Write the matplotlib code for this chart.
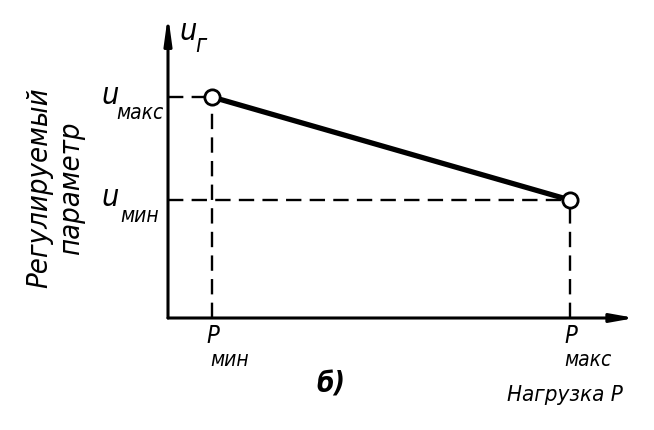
import matplotlib
matplotlib.use("Agg")
import matplotlib.pyplot as plt

# Regulated parameter vs load (arbitrary units, origin at axis corner)
load_points = [44, 402]        # P_min, P_max
param_points = [221, 118]      # u_max, u_min
load_labels = ["мин", "макс"]
param_labels = ["макс", "мин"]

x_end, y_end = 467, 303        # axis arrow tips

fig = plt.figure(figsize=(6.54, 4.30), dpi=100)
ax = fig.add_axes([0, 0, 1, 1])
ax.set_xlim(-168, 486)
ax.set_ylim(-112, 318)
ax.axis("off")

font = dict(family="DejaVu Sans", style="italic", stretch="condensed")

# axes with arrows
ax.annotate("", xy=(x_end, 0), xytext=(0, 0),
            arrowprops=dict(arrowstyle="-|>,head_length=1.4,head_width=0.25",
                            lw=2.2, color="black", shrinkA=0, shrinkB=0))
ax.annotate("", xy=(0, y_end), xytext=(0, 0),
            arrowprops=dict(arrowstyle="-|>,head_length=1.6,head_width=0.22",
                            lw=2.2, color="black", shrinkA=0, shrinkB=0))

# dashed guide lines
dash = dict(color="black", lw=1.7, ls=(0, (6.5, 3.5)))
ax.plot([0, load_points[0]], [param_points[0]] * 2, **dash)
ax.plot([load_points[0]] * 2, [0, param_points[0]], **dash)
ax.plot([0, load_points[1]], [param_points[1]] * 2, **dash)
ax.plot([load_points[1]] * 2, [0, param_points[1]], **dash)

# characteristic
ax.plot(load_points, param_points, color="black", lw=3.8, solid_capstyle="butt")
ax.plot(load_points, param_points, ls="none", marker="o", ms=11,
        mfc="white", mec="black", mew=2)

# parameter labels
for val, sub in zip(param_points, param_labels):
    ax.text(-58, val + 2, "u", fontsize=22, ha="center", va="center", **font)
    ax.text(-28, val - 16, sub, fontsize=15, ha="center", va="center", **font)

# load labels
for val, sub in zip(load_points, load_labels):
    ax.text(val + 1, -18, "P", fontsize=17, ha="center", va="center", **font)
    ax.text(val + 18, -42, sub, fontsize=15, ha="center", va="center", **font)

# axis names
ax.text(20, 287, "u", fontsize=22, ha="center", va="center", **font)
ax.text(33, 273, "г", fontsize=17, ha="center", va="center", **font)
ax.text(-113, 130, "Регулируемый\nпараметр", fontsize=21, rotation=90,
        ha="center", va="center", linespacing=1.15, **font)
ax.text(397, -77, "Нагрузка P", fontsize=16, ha="center", va="center", **font)
ax.text(163, -67, "б)", fontsize=20, fontweight="bold", ha="center",
        va="center", **font)

fig.savefig("out.png", dpi=100)
